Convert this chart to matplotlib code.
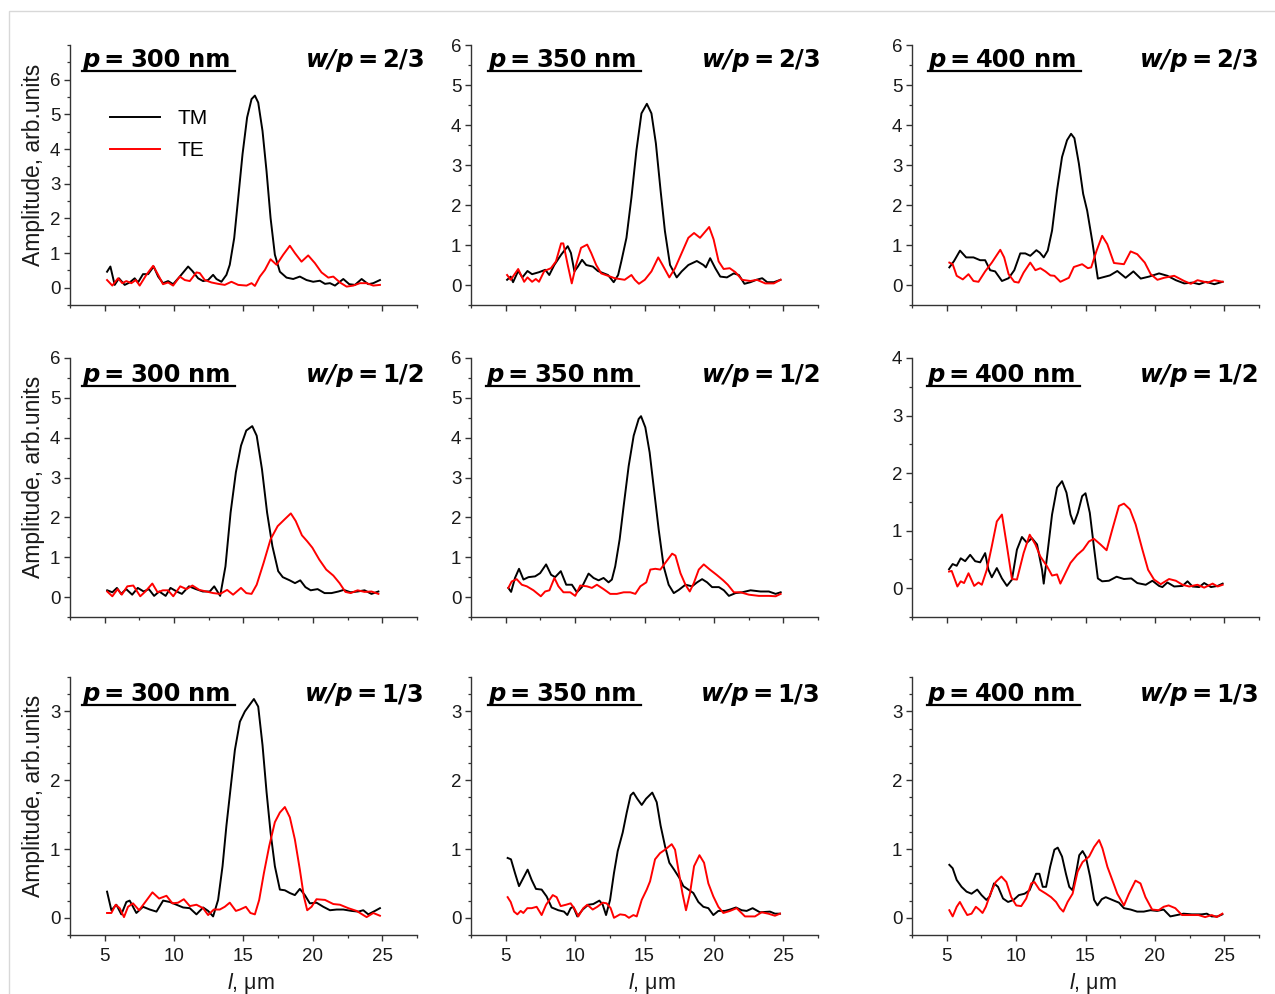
"""Amplitud TM/TE frente a l para tres periodos y tres relaciones w/p."""

import matplotlib

matplotlib.use("Agg")
import matplotlib.pyplot as plt
import numpy as np
from matplotlib.lines import Line2D
from matplotlib.patches import Rectangle
from matplotlib.ticker import FixedLocator, MultipleLocator

plt.rcParams["font.family"] = ["Liberation Sans", "DejaVu Sans"]
plt.rcParams["mathtext.fontset"] = "custom"
plt.rcParams["mathtext.rm"] = "Liberation Sans"
plt.rcParams["mathtext.it"] = "Liberation Sans:italic"

W, H = 1275, 994

PERIODS = ["300", "350", "400"]
RATIOS = ["2/3", "1/2", "1/3"]

# (l, amplitud); fila = w/p, columna = p
TM_300_23 = [(5.17, 0.46), (5.41, 0.61), (5.72, 0.08), (6.03, 0.27), (6.44, 0.08), (6.8, 0.15), (7.16, 0.27), (7.4, 0.15), (7.76, 0.39), (8.13, 0.39), (8.53, 0.61), (8.85, 0.32), (9.2, 0.13), (9.57, 0.19), (9.93, 0.1), (10.41, 0.32), (11.01, 0.61), (11.32, 0.48), (11.73, 0.27), (12.09, 0.19), (12.45, 0.22), (12.81, 0.37), (13.05, 0.25), (13.41, 0.17), (13.77, 0.37), (14.01, 0.66), (14.33, 1.43), (14.62, 2.59), (14.93, 3.85), (15.26, 4.91), (15.58, 5.44), (15.82, 5.54), (16.06, 5.34), (16.37, 4.52), (16.66, 3.36), (16.95, 2.01), (17.26, 0.95), (17.62, 0.46), (18.1, 0.29), (18.58, 0.25), (19.06, 0.32), (19.54, 0.22), (20.02, 0.17), (20.5, 0.2), (20.87, 0.11), (21.23, 0.13), (21.59, 0.06), (22.19, 0.25), (22.62, 0.1), (23.03, 0.08), (23.51, 0.25), (23.99, 0.1), (24.35, 0.13), (24.83, 0.22)]
TE_300_23 = [(5.17, 0.22), (5.55, 0.06), (5.96, 0.27), (6.27, 0.13), (6.56, 0.19), (6.92, 0.13), (7.24, 0.22), (7.52, 0.06), (8.0, 0.37), (8.49, 0.63), (8.85, 0.37), (9.2, 0.1), (9.57, 0.15), (9.93, 0.06), (10.41, 0.32), (10.77, 0.22), (11.13, 0.19), (11.61, 0.44), (11.85, 0.42), (12.21, 0.22), (12.69, 0.15), (13.17, 0.11), (13.65, 0.08), (14.13, 0.17), (14.62, 0.08), (15.22, 0.06), (15.58, 0.13), (15.82, 0.05), (16.18, 0.32), (16.54, 0.51), (16.95, 0.82), (17.38, 0.66), (17.86, 0.95), (18.34, 1.21), (18.7, 1.0), (19.18, 0.75), (19.66, 0.93), (20.14, 0.71), (20.62, 0.44), (21.11, 0.29), (21.47, 0.32), (21.95, 0.15), (22.43, 0.03), (22.91, 0.06), (23.39, 0.13), (23.87, 0.13), (24.35, 0.06), (24.83, 0.08)]

TM_350_23 = [(5.1, 0.13), (5.36, 0.21), (5.53, 0.07), (5.9, 0.35), (6.2, 0.19), (6.57, 0.35), (6.9, 0.27), (7.4, 0.32), (7.85, 0.38), (8.14, 0.25), (8.5, 0.5), (9.0, 0.76), (9.47, 0.97), (9.7, 0.8), (9.95, 0.34), (10.2, 0.46), (10.5, 0.63), (10.8, 0.5), (11.28, 0.46), (11.64, 0.35), (12.0, 0.3), (12.37, 0.25), (12.78, 0.07), (13.1, 0.25), (13.33, 0.59), (13.7, 1.18), (14.06, 2.19), (14.42, 3.37), (14.78, 4.29), (15.17, 4.53), (15.5, 4.29), (15.82, 3.54), (16.16, 2.36), (16.47, 1.35), (16.84, 0.5), (17.32, 0.19), (17.68, 0.34), (18.16, 0.5), (18.77, 0.6), (19.25, 0.5), (19.42, 0.44), (19.73, 0.67), (20.1, 0.42), (20.46, 0.21), (20.94, 0.19), (21.43, 0.29), (21.8, 0.25), (22.2, 0.03), (22.63, 0.07), (23.07, 0.13), (23.48, 0.17), (23.84, 0.07), (24.32, 0.07), (24.8, 0.13)]
TE_350_23 = [(5.1, 0.25), (5.36, 0.13), (5.9, 0.4), (6.33, 0.08), (6.57, 0.19), (6.9, 0.08), (7.17, 0.15), (7.4, 0.08), (7.78, 0.35), (8.26, 0.42), (8.62, 0.59), (8.99, 1.04), (9.15, 1.04), (9.47, 0.5), (9.76, 0.04), (10.07, 0.5), (10.43, 0.93), (10.87, 1.01), (11.16, 0.8), (11.52, 0.5), (11.88, 0.29), (12.37, 0.23), (12.85, 0.17), (13.57, 0.13), (14.06, 0.25), (14.3, 0.13), (14.6, 0.03), (15.02, 0.13), (15.5, 0.34), (15.99, 0.69), (16.3, 0.5), (16.79, 0.19), (17.2, 0.42), (17.68, 0.8), (18.16, 1.18), (18.57, 1.3), (19.0, 1.18), (19.66, 1.45), (19.98, 1.14), (20.34, 0.59), (20.7, 0.4), (21.14, 0.42), (21.55, 0.32), (22.03, 0.13), (22.63, 0.1), (23.1, 0.13), (23.7, 0.04), (24.32, 0.04), (24.8, 0.13)]

TM_400_23 = [(5.19, 0.44), (5.53, 0.6), (5.96, 0.86), (6.4, 0.69), (6.93, 0.69), (7.41, 0.62), (7.77, 0.62), (8.13, 0.37), (8.49, 0.34), (8.98, 0.1), (9.46, 0.17), (9.87, 0.37), (10.3, 0.79), (10.66, 0.79), (11.02, 0.73), (11.46, 0.87), (11.7, 0.81), (11.99, 0.69), (12.28, 0.86), (12.59, 1.36), (12.95, 2.37), (13.31, 3.2), (13.67, 3.62), (13.96, 3.78), (14.2, 3.67), (14.52, 3.04), (14.83, 2.28), (15.12, 1.86), (15.48, 1.11), (15.89, 0.16), (16.33, 0.2), (16.76, 0.24), (17.29, 0.35), (17.89, 0.18), (18.45, 0.34), (18.98, 0.16), (19.58, 0.21), (20.3, 0.29), (20.9, 0.23), (21.51, 0.12), (22.11, 0.04), (22.71, 0.06), (23.19, 0.02), (23.67, 0.08), (24.28, 0.02), (24.88, 0.08)]
TE_400_23 = [(5.19, 0.56), (5.43, 0.52), (5.72, 0.23), (6.16, 0.14), (6.57, 0.27), (6.93, 0.1), (7.29, 0.08), (7.77, 0.34), (8.25, 0.56), (8.86, 0.88), (9.14, 0.69), (9.46, 0.27), (9.87, 0.08), (10.18, 0.06), (10.54, 0.31), (11.02, 0.56), (11.39, 0.37), (11.75, 0.42), (12.11, 0.34), (12.47, 0.24), (12.76, 0.23), (13.19, 0.08), (13.8, 0.18), (14.16, 0.45), (14.76, 0.52), (15.17, 0.42), (15.41, 0.44), (15.8, 0.86), (16.2, 1.23), (16.57, 1.02), (17.05, 0.55), (17.77, 0.52), (18.25, 0.84), (18.73, 0.77), (19.27, 0.56), (19.7, 0.27), (20.18, 0.13), (20.66, 0.18), (21.39, 0.23), (22.11, 0.1), (22.59, 0.03), (23.07, 0.12), (23.8, 0.06), (24.28, 0.12), (24.88, 0.08)]

TM_300_12 = [(5.18, 0.17), (5.55, 0.12), (5.88, 0.23), (6.18, 0.08), (6.55, 0.2), (6.98, 0.06), (7.38, 0.23), (7.81, 0.14), (8.18, 0.2), (8.56, 0.03), (8.93, 0.14), (9.39, 0.03), (9.74, 0.23), (10.19, 0.14), (10.56, 0.08), (11.07, 0.27), (11.57, 0.2), (12.07, 0.14), (12.57, 0.14), (12.89, 0.27), (13.32, 0.03), (13.7, 0.77), (14.07, 2.12), (14.45, 3.13), (14.82, 3.8), (15.2, 4.18), (15.63, 4.29), (15.95, 4.05), (16.33, 3.21), (16.7, 2.12), (17.08, 1.28), (17.5, 0.65), (17.83, 0.5), (18.33, 0.42), (18.71, 0.35), (19.09, 0.42), (19.46, 0.25), (19.84, 0.17), (20.34, 0.2), (20.84, 0.1), (21.34, 0.1), (21.84, 0.14), (22.22, 0.18), (22.72, 0.12), (23.22, 0.14), (23.72, 0.17), (24.22, 0.08), (24.72, 0.14)]
TE_300_12 = [(5.18, 0.14), (5.55, 0.02), (5.93, 0.2), (6.23, 0.06), (6.63, 0.27), (7.06, 0.29), (7.56, 0.02), (7.93, 0.14), (8.43, 0.34), (8.81, 0.12), (9.19, 0.17), (9.56, 0.17), (9.94, 0.02), (10.44, 0.27), (10.89, 0.2), (11.32, 0.29), (11.82, 0.18), (12.32, 0.14), (12.82, 0.1), (13.32, 0.08), (13.82, 0.18), (14.25, 0.06), (14.82, 0.23), (15.2, 0.1), (15.58, 0.08), (15.95, 0.31), (16.45, 0.86), (16.95, 1.45), (17.46, 1.78), (17.96, 1.95), (18.41, 2.1), (18.76, 1.91), (19.21, 1.55), (19.59, 1.4), (19.96, 1.24), (20.46, 0.94), (20.96, 0.69), (21.47, 0.54), (21.92, 0.35), (22.34, 0.13), (22.72, 0.1), (23.22, 0.17), (23.72, 0.13), (24.22, 0.14), (24.72, 0.08)]

TM_350_12 = [(5.19, 0.23), (5.39, 0.13), (5.67, 0.48), (5.96, 0.71), (6.28, 0.44), (6.64, 0.5), (7.12, 0.52), (7.48, 0.6), (7.91, 0.82), (8.27, 0.56), (8.56, 0.5), (8.97, 0.65), (9.36, 0.31), (9.77, 0.31), (10.13, 0.12), (10.49, 0.25), (10.97, 0.59), (11.33, 0.48), (11.69, 0.42), (12.05, 0.48), (12.41, 0.37), (12.65, 0.44), (12.89, 0.77), (13.21, 1.45), (13.5, 2.29), (13.86, 3.29), (14.22, 4.05), (14.58, 4.47), (14.75, 4.54), (15.06, 4.26), (15.37, 3.63), (15.71, 2.62), (16.02, 1.7), (16.38, 0.77), (16.74, 0.31), (17.11, 0.1), (17.47, 0.18), (17.95, 0.31), (18.43, 0.27), (18.79, 0.37), (19.15, 0.45), (19.51, 0.37), (19.87, 0.25), (20.36, 0.25), (20.72, 0.17), (21.08, 0.03), (21.56, 0.1), (22.04, 0.12), (22.64, 0.17), (23.36, 0.14), (23.96, 0.14), (24.45, 0.08), (24.81, 0.12)]
TE_350_12 = [(5.19, 0.23), (5.43, 0.39), (5.79, 0.45), (6.16, 0.31), (6.52, 0.27), (7.0, 0.17), (7.53, 0.02), (7.84, 0.14), (8.15, 0.17), (8.51, 0.48), (8.8, 0.27), (9.16, 0.12), (9.65, 0.12), (10.01, 0.03), (10.37, 0.29), (10.85, 0.27), (11.21, 0.23), (11.57, 0.31), (12.05, 0.2), (12.53, 0.08), (13.01, 0.08), (13.5, 0.12), (13.98, 0.12), (14.34, 0.08), (14.7, 0.27), (15.13, 0.37), (15.42, 0.69), (15.78, 0.71), (16.14, 0.69), (16.5, 0.86), (16.99, 1.09), (17.23, 1.04), (17.59, 0.6), (17.95, 0.31), (18.26, 0.14), (18.55, 0.35), (18.91, 0.69), (19.27, 0.82), (19.71, 0.69), (20.19, 0.56), (20.67, 0.42), (21.0, 0.31), (21.44, 0.12), (21.92, 0.12), (22.52, 0.06), (23.24, 0.03), (23.96, 0.03), (24.45, 0.02), (24.81, 0.08)]

TM_400_12 = [(5.17, 0.33), (5.43, 0.42), (5.72, 0.39), (6.01, 0.52), (6.33, 0.47), (6.69, 0.58), (7.05, 0.47), (7.41, 0.45), (7.77, 0.61), (8.01, 0.32), (8.25, 0.19), (8.61, 0.35), (8.98, 0.17), (9.34, 0.04), (9.7, 0.15), (10.06, 0.67), (10.42, 0.89), (10.78, 0.79), (11.14, 0.87), (11.51, 0.76), (11.87, 0.32), (11.99, 0.08), (12.23, 0.55), (12.59, 1.28), (12.95, 1.75), (13.31, 1.86), (13.63, 1.66), (13.92, 1.28), (14.16, 1.12), (14.45, 1.31), (14.76, 1.6), (15.0, 1.65), (15.31, 1.31), (15.6, 0.73), (15.89, 0.17), (16.2, 0.12), (16.69, 0.13), (17.24, 0.2), (17.77, 0.16), (18.3, 0.17), (18.73, 0.09), (19.34, 0.06), (19.82, 0.13), (20.3, 0.04), (20.54, 0.02), (20.9, 0.1), (21.39, 0.03), (21.99, 0.04), (22.35, 0.12), (22.71, 0.03), (23.19, 0.02), (23.55, 0.09), (24.04, 0.02), (24.52, 0.04), (24.88, 0.08)]
TE_400_12 = [(5.17, 0.29), (5.36, 0.3), (5.77, 0.03), (6.01, 0.12), (6.25, 0.09), (6.57, 0.26), (6.98, 0.04), (7.29, 0.1), (7.53, 0.06), (7.89, 0.32), (8.25, 0.73), (8.61, 1.16), (8.98, 1.28), (9.34, 0.73), (9.7, 0.16), (10.06, 0.15), (10.54, 0.61), (10.98, 0.93), (11.39, 0.76), (11.75, 0.55), (12.23, 0.38), (12.59, 0.22), (12.95, 0.24), (13.19, 0.08), (13.55, 0.26), (13.92, 0.44), (14.4, 0.58), (14.83, 0.67), (15.24, 0.81), (15.6, 0.86), (16.08, 0.76), (16.52, 0.66), (16.93, 1.02), (17.41, 1.43), (17.77, 1.47), (18.2, 1.37), (18.61, 1.11), (19.1, 0.67), (19.51, 0.32), (19.94, 0.15), (20.42, 0.07), (21.02, 0.16), (21.51, 0.13), (21.99, 0.06), (22.47, 0.03), (23.07, 0.06), (23.55, 0.01), (24.16, 0.08), (24.52, 0.03), (24.88, 0.06)]

TM_300_13 = [(5.17, 0.38), (5.48, 0.11), (5.84, 0.19), (6.2, 0.05), (6.56, 0.23), (6.8, 0.25), (7.28, 0.07), (7.76, 0.16), (8.25, 0.12), (8.73, 0.09), (9.21, 0.25), (9.69, 0.23), (10.17, 0.19), (10.65, 0.15), (11.13, 0.14), (11.61, 0.05), (12.09, 0.15), (12.45, 0.1), (12.81, 0.02), (13.17, 0.26), (13.49, 0.75), (13.77, 1.34), (14.09, 1.92), (14.38, 2.44), (14.74, 2.85), (15.1, 3.0), (15.46, 3.1), (15.75, 3.18), (16.06, 3.07), (16.37, 2.51), (16.66, 1.83), (16.95, 1.24), (17.26, 0.75), (17.62, 0.41), (17.98, 0.4), (18.34, 0.36), (18.7, 0.33), (19.06, 0.42), (19.42, 0.33), (19.78, 0.21), (20.26, 0.22), (20.75, 0.16), (21.23, 0.11), (21.71, 0.12), (22.19, 0.12), (22.79, 0.1), (23.27, 0.09), (23.63, 0.11), (23.99, 0.05), (24.47, 0.1), (24.83, 0.14)]
TE_300_13 = [(5.17, 0.07), (5.48, 0.07), (5.79, 0.19), (6.08, 0.14), (6.39, 0.01), (6.68, 0.16), (7.04, 0.21), (7.48, 0.11), (8.0, 0.25), (8.44, 0.37), (8.92, 0.28), (9.45, 0.32), (9.88, 0.21), (10.29, 0.22), (10.7, 0.27), (11.13, 0.17), (11.61, 0.19), (12.09, 0.14), (12.45, 0.04), (12.86, 0.12), (13.29, 0.12), (13.65, 0.16), (14.01, 0.22), (14.45, 0.1), (14.74, 0.12), (15.17, 0.16), (15.5, 0.07), (15.82, 0.05), (16.13, 0.26), (16.47, 0.65), (16.85, 1.04), (17.26, 1.39), (17.62, 1.53), (17.98, 1.61), (18.34, 1.46), (18.7, 1.14), (19.06, 0.7), (19.35, 0.31), (19.59, 0.11), (19.9, 0.16), (20.26, 0.27), (20.87, 0.26), (21.47, 0.2), (21.95, 0.19), (22.55, 0.14), (23.15, 0.1), (23.87, 0.01), (24.35, 0.07), (24.83, 0.03)]

TM_350_13 = [(5.14, 0.87), (5.38, 0.85), (5.67, 0.65), (5.96, 0.46), (6.27, 0.58), (6.58, 0.7), (6.87, 0.55), (7.18, 0.42), (7.59, 0.41), (7.95, 0.31), (8.31, 0.15), (8.79, 0.11), (9.2, 0.09), (9.44, 0.04), (9.68, 0.14), (9.87, 0.16), (10.16, 0.02), (10.55, 0.12), (10.95, 0.19), (11.31, 0.2), (11.75, 0.25), (11.99, 0.19), (12.23, 0.04), (12.52, 0.26), (12.8, 0.65), (13.07, 0.97), (13.43, 1.24), (13.72, 1.53), (14.0, 1.78), (14.2, 1.82), (14.48, 1.73), (14.8, 1.64), (15.11, 1.73), (15.56, 1.82), (15.88, 1.68), (16.16, 1.34), (16.48, 1.04), (16.79, 0.8), (17.13, 0.7), (17.51, 0.58), (17.8, 0.46), (18.16, 0.41), (18.52, 0.36), (18.88, 0.23), (19.24, 0.16), (19.6, 0.14), (19.96, 0.04), (20.32, 0.1), (20.8, 0.1), (21.16, 0.12), (21.59, 0.15), (22.0, 0.11), (22.36, 0.1), (22.79, 0.14), (23.32, 0.08), (24.04, 0.09), (24.4, 0.06), (24.76, 0.06)]
TE_350_13 = [(5.14, 0.3), (5.36, 0.23), (5.6, 0.09), (5.84, 0.05), (6.08, 0.1), (6.27, 0.07), (6.56, 0.14), (6.87, 0.14), (7.23, 0.16), (7.59, 0.04), (7.91, 0.19), (8.39, 0.33), (8.67, 0.3), (8.96, 0.17), (9.35, 0.19), (9.68, 0.21), (9.99, 0.12), (10.23, 0.02), (10.59, 0.14), (10.88, 0.19), (11.27, 0.12), (11.6, 0.16), (11.99, 0.22), (12.27, 0.21), (12.56, 0.14), (12.8, 0.0), (13.24, 0.05), (13.6, 0.04), (13.88, 0.0), (14.2, 0.04), (14.44, 0.02), (14.8, 0.26), (15.16, 0.41), (15.4, 0.53), (15.76, 0.85), (16.12, 0.94), (16.48, 0.99), (16.96, 1.07), (17.2, 0.99), (17.44, 0.7), (17.73, 0.36), (17.99, 0.11), (18.28, 0.36), (18.57, 0.75), (18.96, 0.91), (19.29, 0.8), (19.6, 0.5), (19.96, 0.31), (20.32, 0.16), (20.68, 0.07), (21.16, 0.1), (21.64, 0.14), (22.24, 0.02), (22.96, 0.02), (23.44, 0.08), (23.92, 0.06), (24.4, 0.03), (24.76, 0.06)]

TM_400_13 = [(5.19, 0.77), (5.43, 0.72), (5.72, 0.55), (6.07, 0.45), (6.43, 0.38), (6.79, 0.35), (7.2, 0.41), (7.51, 0.33), (7.86, 0.26), (8.1, 0.31), (8.41, 0.5), (8.7, 0.45), (9.06, 0.28), (9.42, 0.23), (9.82, 0.26), (10.2, 0.33), (10.61, 0.35), (10.97, 0.4), (11.21, 0.52), (11.44, 0.64), (11.68, 0.64), (11.92, 0.45), (12.16, 0.45), (12.45, 0.74), (12.76, 0.99), (13.0, 1.02), (13.31, 0.89), (13.59, 0.64), (13.83, 0.45), (14.07, 0.4), (14.31, 0.64), (14.55, 0.91), (14.79, 0.97), (15.02, 0.89), (15.33, 0.6), (15.62, 0.26), (15.86, 0.18), (16.17, 0.27), (16.46, 0.3), (16.93, 0.26), (17.41, 0.22), (17.77, 0.14), (18.25, 0.12), (18.72, 0.09), (19.2, 0.09), (19.68, 0.11), (20.16, 0.1), (20.63, 0.12), (21.11, 0.02), (21.59, 0.04), (22.06, 0.06), (22.66, 0.05), (23.38, 0.05), (23.74, 0.06), (24.09, 0.02), (24.52, 0.02), (24.86, 0.05)]
TE_400_13 = [(5.19, 0.11), (5.43, 0.02), (5.72, 0.16), (5.95, 0.23), (6.19, 0.14), (6.48, 0.04), (6.79, 0.06), (7.1, 0.16), (7.34, 0.12), (7.58, 0.07), (7.82, 0.16), (8.15, 0.35), (8.53, 0.52), (8.94, 0.6), (9.3, 0.52), (9.65, 0.3), (10.01, 0.18), (10.37, 0.17), (10.73, 0.28), (11.09, 0.5), (11.32, 0.52), (11.68, 0.41), (12.16, 0.35), (12.52, 0.3), (12.88, 0.23), (13.16, 0.14), (13.4, 0.09), (13.71, 0.23), (14.07, 0.35), (14.43, 0.67), (14.79, 0.81), (15.26, 0.89), (15.62, 1.03), (15.98, 1.13), (16.22, 1.01), (16.58, 0.74), (16.93, 0.55), (17.29, 0.35), (17.77, 0.18), (18.13, 0.35), (18.6, 0.54), (18.96, 0.5), (19.32, 0.3), (19.8, 0.12), (20.27, 0.11), (20.63, 0.16), (20.99, 0.18), (21.47, 0.14), (21.95, 0.04), (22.54, 0.04), (23.14, 0.04), (23.62, 0.01), (24.09, 0.04), (24.45, 0.01), (24.86, 0.06)]

CURVES = [
    [(TM_300_23, TE_300_23), (TM_350_23, TE_350_23), (TM_400_23, TE_400_23)],
    [(TM_300_12, TE_300_12), (TM_350_12, TE_350_12), (TM_400_12, TE_400_12)],
    [(TM_300_13, TE_300_13), (TM_350_13, TE_350_13), (TM_400_13, TE_400_13)],
]

YLIMS = [
    [(-0.5, 7), (-0.5, 6), (-0.5, 6)],
    [(-0.5, 6), (-0.5, 6), (-0.5, 4)],
    [(-0.25, 3.5), (-0.25, 3.5), (-0.25, 3.5)],
]
YMAJOR = [
    [range(0, 7), range(0, 7), range(0, 7)],
    [range(0, 7), range(0, 7), range(0, 5)],
    [range(0, 4), range(0, 4), range(0, 4)],
]
YMINOR = [0.5, 0.5, 0.25]

# posiciones en píxeles de la figura
COLS = [(70, 417), (471, 818), (912, 1259)]
ROWS = [(45, 305), (358, 617), (677, 935)]
TITLE_LEFT = [[82, 488, 928], [82, 486, 927], [82, 488, 927]]
TITLE_RIGHT = [[425, 821, 1259], [425, 821, 1259], [424, 820, 1259]]
TITLE_BASE = [67, 382, 701]


def fx(x):
    return x / W


def fy(y):
    return 1 - y / H


def titulo(fig, r, c):
    x0 = TITLE_LEFT[r][c]
    x1 = TITLE_RIGHT[r][c]
    y = fy(TITLE_BASE[r])
    kw = dict(fontsize=17.5, fontweight="bold", family="DejaVu Sans", va="baseline")
    fig.text(fx(x0), y, "p", style="italic", **kw)
    fig.text(fx(x0 + 32), y, "=", ha="center", **kw)
    fig.text(fx(x0 + 48), y, PERIODS[c], **kw)
    fig.text(fx(x0 + 106), y, "nm", **kw)
    fig.add_artist(Line2D([fx(x0), fx(x0 + 153)], [fy(TITLE_BASE[r] + 4)] * 2,
                          color="black", lw=1.6))
    fig.text(fx(x1), y, RATIOS[r], ha="right", **kw)
    fig.text(fx(x1 - 57), y, "=", ha="center", **kw)
    fig.text(fx(x1 - 70), y, "w/p", ha="right", style="italic", **kw)


def main():
    fig = plt.figure(figsize=(W / 100, H / 100), dpi=100)
    fig.add_artist(Rectangle((fx(9), -0.05), 1.2, fy(11) + 0.05, fill=False,
                             edgecolor="#d8d8d8", lw=1.0))

    for r in range(3):
        for c in range(3):
            xa, xb = COLS[c]
            ya, yb = ROWS[r]
            ax = fig.add_axes([fx(xa), fy(yb), (xb - xa) / W, (yb - ya) / H])
            tm = np.array(CURVES[r][c][0]).T
            te = np.array(CURVES[r][c][1]).T
            ax.plot(tm[0], tm[1], color="black", lw=1.4, label="TM")
            ax.plot(te[0], te[1], color="#ff0000", lw=1.4, label="TE")

            ax.set_xlim(2.5, 27.5)
            ax.set_ylim(*YLIMS[r][c])
            ax.xaxis.set_major_locator(MultipleLocator(5))
            ax.xaxis.set_minor_locator(MultipleLocator(2.5))
            ax.yaxis.set_major_locator(FixedLocator(list(YMAJOR[r][c])))
            ax.yaxis.set_minor_locator(MultipleLocator(YMINOR[r]))

            for side in ("top", "right"):
                ax.spines[side].set_visible(False)
            for side in ("left", "bottom"):
                ax.spines[side].set_color("#333333")
                ax.spines[side].set_linewidth(1.0)
            ax.tick_params(which="major", direction="out", length=4.5, width=1.0,
                           color="#333333", labelsize=13.5, labelcolor="#1a1a1a")
            ax.tick_params(which="minor", direction="out", length=2.5, width=0.9,
                           color="#333333")
            ax.tick_params(axis="y", pad=2.5)
            ax.tick_params(axis="x", pad=5)
            if r < 2:
                ax.tick_params(axis="x", labelbottom=False)
            else:
                ax.set_xlabel(r"$\mathit{l}$, μm", fontsize=15.5, color="#1a1a1a")
                ax.xaxis.set_label_coords(0.52, -0.14)
                ax.xaxis.label.set_va("top")
            if c == 0:
                ax.set_ylabel("Amplitude, arb.units", fontsize=16.5, color="#1a1a1a")
                ax.yaxis.set_label_coords(-0.072, 0.54)
            if r == 0 and c == 0:
                ax.legend(loc="center left", bbox_to_anchor=(fx(110), fy(134.5)),
                          bbox_transform=fig.transFigure, frameon=False, fontsize=15,
                          handlelength=2.4, handletextpad=0.85, labelspacing=0.62,
                          borderpad=0, borderaxespad=0)
            titulo(fig, r, c)

    fig.savefig("out.png", dpi=100)
    plt.close(fig)


if __name__ == "__main__":
    main()
